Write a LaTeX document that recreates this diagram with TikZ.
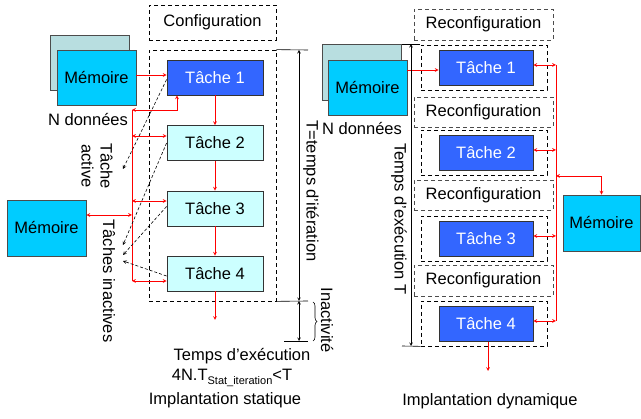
\documentclass[tikz,border=0pt]{standalone}
\usepackage{fontspec}
\setmainfont{Liberation Sans}
\usetikzlibrary{decorations.pathreplacing}
\definecolor{bleutache}{RGB}{51,102,255}
\definecolor{cyantache}{RGB}{204,255,255}
\definecolor{cyanmem}{RGB}{0,204,255}
\definecolor{grismem}{RGB}{184,222,224}
\begin{document}
\begin{tikzpicture}[>=stealth,x=1pt,y=-1pt,
	every node/.style={font=\fontsize{16.5}{19}\selectfont,inner sep=0pt},
	tache/.style={draw=black!80,line width=0.8pt,minimum width=96pt,minimum height=35pt,fill=cyantache},
	tacheb/.style={tache,fill=bleutache,text=white,minimum width=94pt},
	mem/.style={draw=black!70,line width=0.8pt,fill=cyanmem,minimum width=79pt,minimum height=55pt},
	memfond/.style={mem,fill=grismem},
	cadre/.style={draw,dashed,line width=0.7pt,dash pattern=on 4pt off 3pt},
	reconf/.style={cadre,draw=black!70,minimum width=139pt,minimum height=31pt},
	lien/.style={red,line width=0.7pt},
	pointe/.style={->,dashed,line width=0.6pt,dash pattern=on 3pt off 2pt},
	cote/.style={line width=0.6pt}]
	\useasboundingbox (0,0) rectangle (641,419);
	% implantation statique
	\node[cadre,minimum width=127pt,minimum height=35pt] (cfg) at (212.5,22.5) {Configuration};
	\node[cadre,minimum width=127pt,minimum height=251pt] (cadreS) at (212.5,175.5) {};
	\node[memfond] (memAf) at (89.5,62.5) {};
	\node[mem] (memA) at (96.5,77.5) {Mémoire};
	\node (nA) at (88,120) {N données};
	\node[tache,fill=bleutache,text=white] (t1) at (215,77.5) {Tâche 1};
	\node[tache] (t2) at (215,143) {Tâche 2};
	\node[tache] (t3) at (215,208.5) {Tâche 3};
	\node[tache] (t4) at (215,273.5) {Tâche 4};
	\node[mem,minimum height=56pt] (memB) at (46.5,228) {Mémoire};
	\coordinate (finS) at (215,320);
	\draw[lien,->] ([yshift=2.5pt]memA.east) -- ([yshift=2.5pt]t1.west);
	\draw[lien,->] (t1) -- (t2);
	\draw[lien,->] (t2) -- (t3);
	\draw[lien,->] (t3) -- (t4);
	\draw[lien,->] (t4) -- (finS);
	% bus vers la memoire
	\coordinate (busA) at (132,110);
	\coordinate (busB) at (132,281);
	\draw[lien] (busA) -- (busB);
	\draw[lien,<->] (busA) -| ([xshift=-38pt]t1.south);
	\draw[lien,<->] (busA |- 0,136) -- ([yshift=7pt]t2.west);
	\draw[lien,<->] (busA |- 0,201) -- ([yshift=7.5pt]t3.west);
	\draw[lien,<->] (busB) -- ([yshift=-7.5pt]t4.west);
	\draw[lien,<->] ([yshift=13pt]memB.east) -- (busA |- 0,215);
	\coordinate (pa) at (123,169);
	\coordinate (pi1) at (123,245);
	\coordinate (pi2) at (123,255);
	\coordinate (pi3) at (123,261);
	\draw[pointe] ([yshift=-2pt]t1.west) -- (pa);
	\draw[pointe] (t2.west) -- (pi1);
	\draw[pointe] ([yshift=2pt]t3.west) -- (pi2);
	\draw[pointe] ([yshift=-2.5pt]t4.west) -- (pi3);
	\node[rotate=-90,align=center] (tact) at (97,166) {Tâche\\active};
	\node[rotate=-90] (tinact) at (109,281) {Tâches inactives};
	% temps
	\coordinate (hA) at (299,50);
	\coordinate (hB) at (299,301);
	\coordinate (hC) at (299,341);
	\draw[cote] (cadreS.north east) -- (308,50);
	\draw[cote] (cadreS.south east) -- (308,301);
	\draw[cote] (284,341) -- (308,341);
	\draw[cote,<->] (hA) -- (hB);
	\draw[cote,<->] (hB) -- (hC);
	\node[rotate=-90] (titer) at (311,191) {T=temps d'itération};
	\draw[cote,decorate,decoration={brace,amplitude=4pt}] (313,302) -- (313,341);
	\node[rotate=-90] (inact) at (327,320) {Inactivité};
	\node (texec) at (242,356) {Temps d'exécution};
	\node (form) at (232,378) {4N.T\raisebox{-4pt}{\fontsize{11}{12}\selectfont Stat\_iteration}<T};
	\node (istat) at (225,400) {Implantation statique};
	% implantation dynamique
	\node[reconf] (r1) at (483.5,24.5) {Reconfiguration};
	\node[reconf,minimum height=30pt] (r2) at (483.5,112) {Reconfiguration};
	\node[reconf,minimum height=30pt] (r3) at (483.5,195) {Reconfiguration};
	\node[reconf] (r4) at (483.5,280.5) {Reconfiguration};
	\foreach \yc/\nom in {67.5/c1,152.5/c2,238.5/c3,323.5/c4}
		\node[cadre,minimum width=126pt,minimum height=45pt] (\nom) at (484,\yc) {};
	\node[tacheb] (u1) at (486,67.5) {Tâche 1};
	\node[tacheb] (u2) at (486,153) {Tâche 2};
	\node[tacheb] (u3) at (486,238.5) {Tâche 3};
	\node[tacheb] (u4) at (486,324) {Tâche 4};
	\node[memfond,minimum height=56pt] (memCf) at (361.5,72) {};
	\node[mem] (memC) at (367.5,87.5) {Mémoire};
	\node (nC) at (362,129) {N données};
	\node[mem,minimum width=77pt,minimum height=56pt] (memD) at (601.5,223) {Mémoire};
	\coordinate (finD) at (488,371);
	\draw[lien,->] ([yshift=17.5pt]memC.east) -- ([yshift=-2.5pt]u1.west);
	\draw[lien,->] ([xshift=2pt]u4.south) -- (finD);
	\coordinate (busC) at (556,65);
	\coordinate (busD) at (556,321);
	\draw[lien] (busC) -- (busD);
	\draw[lien,<->] ([yshift=2.5pt]u1.east) -- (busC);
	\draw[lien,<->] ([yshift=3pt]u2.east) -- (busC |- 0,150);
	\draw[lien,<->] ([yshift=2.5pt]u3.east) -- (busC |- 0,236);
	\draw[lien,<->] ([yshift=3pt]u4.east) -- (busD);
	\draw[lien,<->] (busC |- 0,176) -| (memD.north);
	\draw[cote] (402,44) -- (420,44);
	\draw[cote] (402,346) -- (c4.south west);
	\draw[cote,<->] (411,44) -- (411,346);
	\node[rotate=-90] (texecT) at (399,219) {Temps d'exécution T};
	\node (idyn) at (490,401) {Implantation dynamique};
\end{tikzpicture}
\end{document}
